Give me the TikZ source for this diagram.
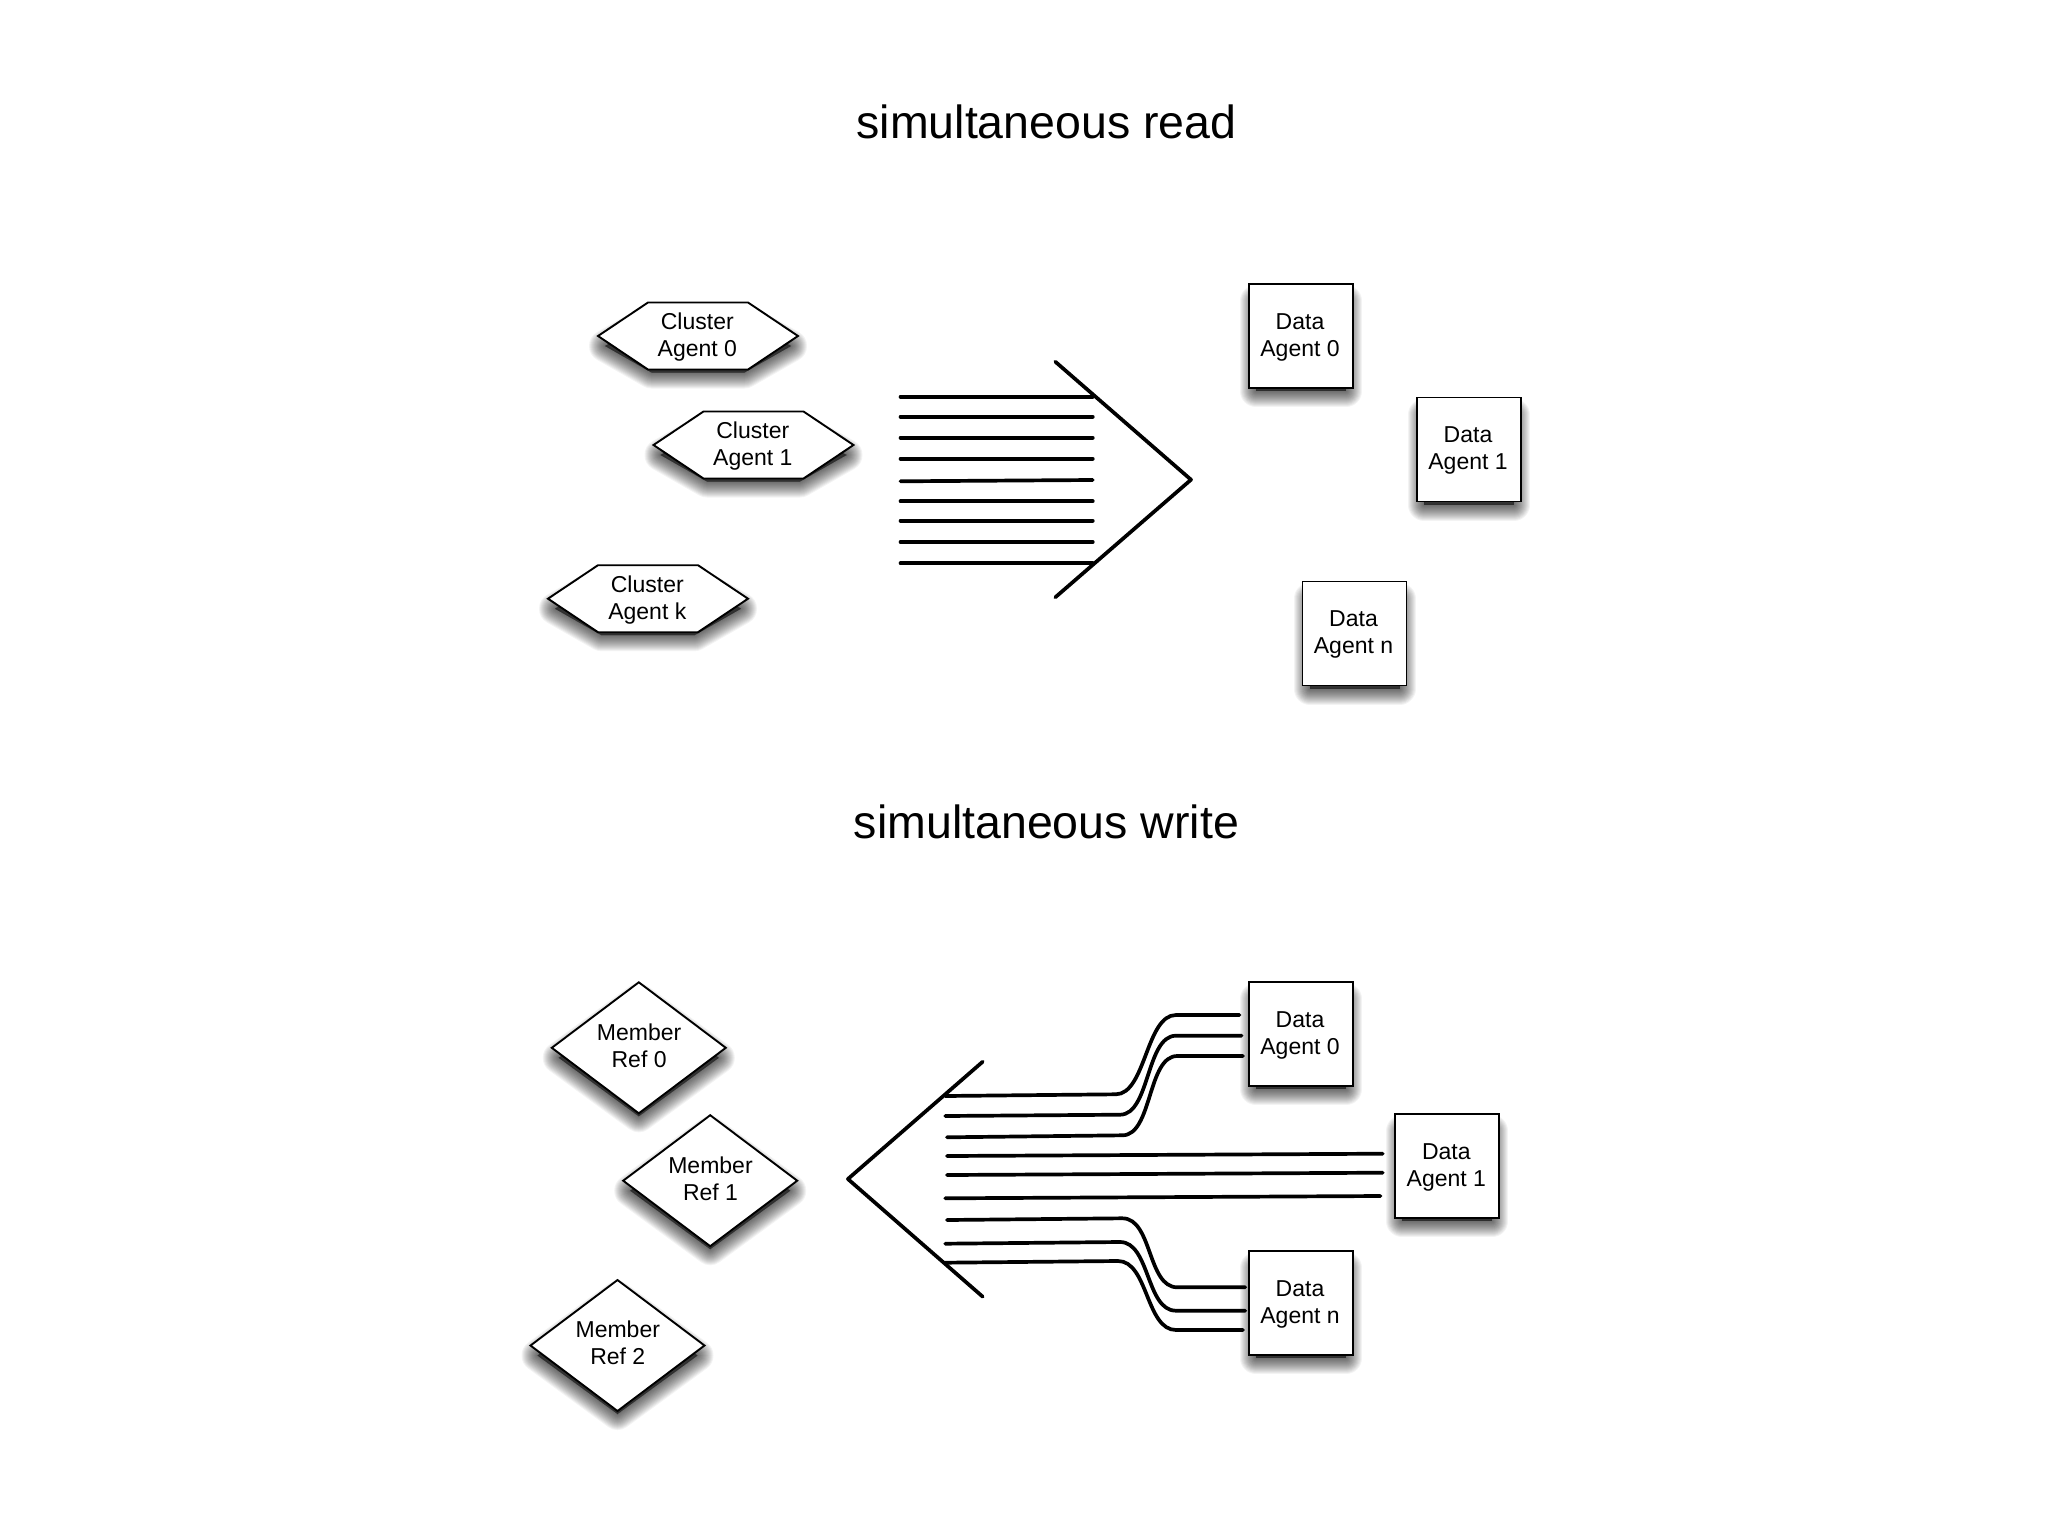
\documentclass[tikz,border=0pt]{standalone}
\usepackage{fontspec}
\setmainfont{Liberation Sans}
\tikzset{
  shlayer/.style={draw=black,fill=black,opacity=0.048,line join=round},
  shapeline/.style={draw=black,fill=white,line width=1.9pt,line join=miter},
  labeltext/.style={font=\fontsize{23}{27}\selectfont,align=center,inner sep=0pt,text=black},
  titletext/.style={font=\fontsize{46.5}{50}\selectfont,inner sep=0pt,text=black},
  boxnode/.style={shapeline,rectangle,minimum width=104pt,minimum height=104pt,inner sep=0pt},
  bundle/.style={draw=black,line width=3.7pt,line cap=round,line join=round},
}
\newcommand{\softshadow}[5]{%
  \pgfmathsetmacro{\sx}{#3-7}\pgfmathsetmacro{\sy}{#4-7}%
  \foreach \w in {2,4,...,32}{%
    \path[shlayer,line width=\w pt,shift={(#1,#2+10)},x=\sx pt,y=-\sy pt] #5;}}
\newcommand{\hexpath}{(-1,0) -- (-0.5,-1) -- (0.5,-1) -- (1,0) -- (0.5,1) -- (-0.5,1) -- cycle}
\newcommand{\diapath}{(-1,0) -- (0,-1) -- (1,0) -- (0,1) -- cycle}
\newcommand{\boxpath}{(-1,-1) -- (1,-1) -- (1,1) -- (-1,1) -- cycle}
\newcommand{\hexnode}[4]{%
  \softshadow{#2}{#3}{100}{33.5}{\hexpath}
  \path[shapeline,shift={(#2,#3)},x=100pt,y=-33.5pt] \hexpath;
  \node[labeltext] (#1) at (#2-0.7,#3+1) {#4};}
\newcommand{\dianode}[4]{%
  \softshadow{#2}{#3}{87}{65.5}{\diapath}
  \path[shapeline,shift={(#2,#3)},x=87pt,y=-65.5pt] \diapath;
  \node[labeltext] (#1) at (#2+0.3,#3-2.3) {#4};}
\newcommand{\boxagent}[4]{%
  \softshadow{#2}{#3}{52}{52}{\boxpath}
  \node[boxnode] (#1) at (#2,#3) {};
  \node[labeltext] (#1t) at (#2-1,#3+1.3) {#4};}
\begin{document}
\begin{tikzpicture}[x=1pt,y=-1pt]
\useasboundingbox[fill=white] (0,0) rectangle (2048,1536);
% titles
\node[titletext] (title1) at (1046.5,122) {simultaneous read};
\node[titletext] (title2) at (1046.5,822) {simultaneous write};
% read: cluster agents
\hexnode{ca0}{698}{336}{Cluster\\Agent 0}
\hexnode{ca1}{753.5}{445}{Cluster\\Agent 1}
\hexnode{cak}{648}{598.7}{Cluster\\Agent k}
% read: arrow
\draw[bundle] (1055.3,361.7) -- (1191,479.7) -- (1055.3,597.3);
\draw[bundle] (900.5,396.7) -- (1092.8,396.7);
\draw[bundle] (900.5,416.7) -- (1092.8,416.7);
\draw[bundle] (900.5,437.7) -- (1092.8,437.7);
\draw[bundle] (900.5,458.7) -- (1092.8,458.7);
\draw[bundle] (900.5,481.3) -- (1092.8,480);
\draw[bundle] (900.5,501.3) -- (1092.8,501.3);
\draw[bundle] (900.5,520.7) -- (1092.8,520.7);
\draw[bundle] (900.5,542) -- (1092.8,542);
\draw[bundle] (900.5,563.3) -- (1092.8,563.3);
% read: data agents
\boxagent{rd0}{1301}{336}{Data\\Agent 0}
\boxagent{rd1}{1469}{449.5}{Data\\Agent 1}
\boxagent{rdn}{1354.5}{633.5}{Data\\Agent n}
% write: member refs
\dianode{mr0}{638.8}{1047.8}{Member\\Ref 0}
\dianode{mr1}{710.2}{1180.7}{Member\\Ref 1}
\dianode{mr2}{617.5}{1345.5}{Member\\Ref 2}
% write: arrow
\draw[bundle] (982.7,1061.7) -- (847.9,1179) -- (982.7,1296.7);
\draw[bundle] (945.2,1096) -- (1115.7,1094.3) .. controls (1145.7,1094.3) and (1146,1015) .. (1176,1015) -- (1239.4,1015);
\draw[bundle] (945.2,1116) -- (1120,1114.7) .. controls (1150,1114.7) and (1146,1035.7) .. (1176,1035.7) -- (1241.6,1035.7);
\draw[bundle] (947,1137.3) -- (1122.4,1135.3) .. controls (1152.4,1135.3) and (1147.3,1056) .. (1177.3,1056) -- (1243,1056);
\draw[bundle] (947,1156) -- (1382.7,1153.7);
\draw[bundle] (947,1175) -- (1382.7,1172.7);
\draw[bundle] (945.2,1198.3) -- (1380.4,1196);
\draw[bundle] (947,1220) -- (1122.4,1218.3) .. controls (1152.4,1218.3) and (1147.3,1287.3) .. (1177.3,1287.3) -- (1245.2,1287.3);
\draw[bundle] (945.2,1243.7) -- (1120,1242) .. controls (1150,1242) and (1146,1310.7) .. (1176,1310.7) -- (1245.2,1310.7);
\draw[bundle] (945.2,1262.7) -- (1118,1261) .. controls (1148,1261) and (1146,1330) .. (1176,1330) -- (1243,1330);
% write: data agents
\boxagent{wd0}{1301}{1034}{Data\\Agent 0}
\boxagent{wd1}{1447.3}{1166.2}{Data\\Agent 1}
\boxagent{wdn}{1301}{1303}{Data\\Agent n}
\end{tikzpicture}
\end{document}
